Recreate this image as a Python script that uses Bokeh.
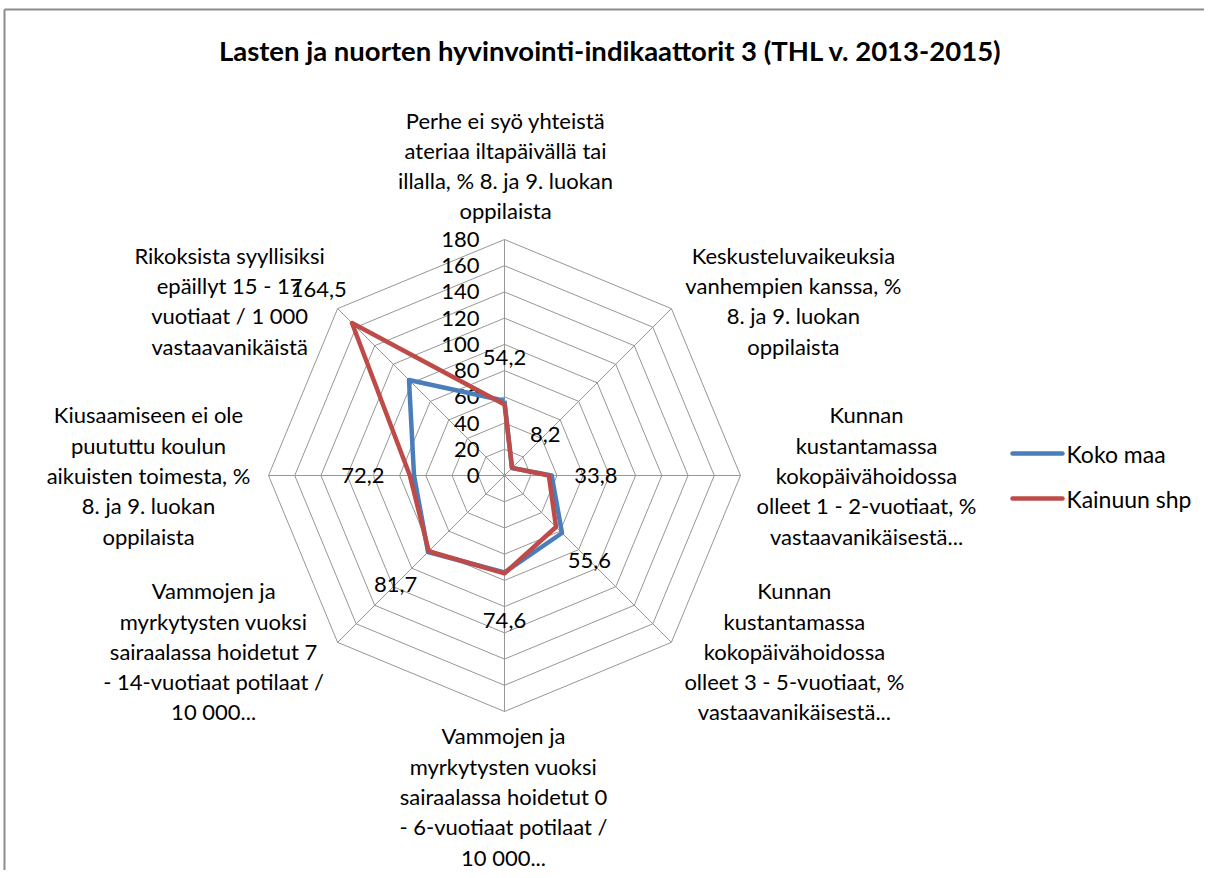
import math
from bokeh.plotting import figure
from bokeh.models import Range1d, ColumnDataSource
from bokeh.core.properties import value
from bokeh.embed import file_html
from bokeh.resources import INLINE

# ---------------- data ----------------
title_text = "Lasten ja nuorten hyvinvointi-indikaattorit 3 (THL v. 2013-2015)"
categories = [
    "Perhe ei syö yhteistä\nateriaa iltapäivällä tai\nillalla, % 8. ja 9. luokan\noppilaista",
    "Keskusteluvaikeuksia\nvanhempien kanssa, %\n8. ja 9. luokan\noppilaista",
    "Kunnan\nkustantamassa\nkokopäivähoidossa\nolleet 1 - 2-vuotiaat, %\nvastaavanikäisestä...",
    "Kunnan\nkustantamassa\nkokopäivähoidossa\nolleet 3 - 5-vuotiaat, %\nvastaavanikäisestä...",
    "Vammojen ja\nmyrkytysten vuoksi\nsairaalassa hoidetut 0\n- 6-vuotiaat potilaat /\n10 000...",
    "Vammojen ja\nmyrkytysten vuoksi\nsairaalassa hoidetut 7\n- 14-vuotiaat potilaat /\n10 000...",
    "Kiusaamiseen ei ole\npuututtu koulun\naikuisten toimesta, %\n8. ja 9. luokan\noppilaista",
    "Rikoksista syyllisiksi\nepäillyt 15 - 17\nvuotiaat / 1 000\nvastaavanikäistä",
]
series_names = ["Koko maa", "Kainuun shp"]
koko_maa = [57.0, 8.0, 36.0, 62.0, 74.0, 82.5, 69.0, 103.0]
kainuun_shp = [54.2, 8.2, 33.8, 55.6, 74.6, 81.7, 72.2, 164.5]
ticks = [0, 20, 40, 60, 80, 100, 120, 140, 160, 180]

# ---------------- layout / style ----------------
W, H = 1204, 870
CX, CY = 504, 475                     # chart centre in figure pixels
R_PX = 236.0                          # pixels for the max value
VMAX = 180.0
K = VMAX / R_PX                       # value units per pixel
FONT = value("Lato")
FS = "22px"
LINE_H = 30.3
BLUE = "#4A7EBB"
RED = "#BE4B48"
GRID = "#979797"
# offsets (pixels) of each category label block centre from its outer vertex
LABEL_OFFSETS = [(1, -74), (122, -8), (126, 0), (123, 9),
                 (-1, 85), (-124, 9), (-120, 0), (-108, -8)]
DATA_LABEL_GAP = 47  # pixels beyond point


def px(xp):
    return (xp - CX) * K


def py(yp):
    return (CY - yp) * K


n = len(categories)
ang = [2 * math.pi * i / n for i in range(n)]
sx = [math.sin(a) for a in ang]
cy_ = [math.cos(a) for a in ang]

p = figure(width=W, height=H, output_backend="svg", toolbar_location=None,
           x_range=Range1d(-CX * K, (W - CX) * K),
           y_range=Range1d(-(H - CY) * K, CY * K),
           min_border=0, outline_line_color=None, background_fill_color="white",
           border_fill_color="white")
p.axis.visible = False
p.grid.visible = False

# border of the chart area
p.line([px(4), px(4)], [py(H + 5), py(9)], line_color="#8C8C8C", line_width=2)
p.line([px(4), px(W + 5)], [py(9), py(9)], line_color="#8C8C8C", line_width=2)

# grid rings
ring_xs, ring_ys = [], []
for t in ticks[1:]:
    ring_xs.append([t * s for s in sx] + [t * sx[0]])
    ring_ys.append([t * c for c in cy_] + [t * cy_[0]])
p.multi_line(ring_xs, ring_ys, line_color=GRID, line_width=1)
# spokes
p.segment(x0=[0] * n, y0=[0] * n, x1=[VMAX * s for s in sx], y1=[VMAX * c for c in cy_],
          line_color=GRID, line_width=1)

# tick labels
p.text(x=[0] * len(ticks), y=ticks, text=[str(t) for t in ticks],
       x_offset=-25, text_align="right", text_baseline="middle",
       text_font=FONT, text_font_size=FS, text_color="#000000")

# series
for vals, col in ((koko_maa, BLUE), (kainuun_shp, RED)):
    xs = [v * s for v, s in zip(vals, sx)]
    ys = [v * c for v, c in zip(vals, cy_)]
    p.line(xs + xs[:1], ys + ys[:1], line_color=col, line_width=4.5, line_join="round")

# data labels (Kainuun shp)
lab_src = ColumnDataSource(dict(
    x=[(v + DATA_LABEL_GAP * K) * s for v, s in zip(kainuun_shp, sx)],
    y=[(v + DATA_LABEL_GAP * K) * c for v, c in zip(kainuun_shp, cy_)],
    text=[f"{v:.1f}".replace(".", ",") for v in kainuun_shp]))
p.text(x="x", y="y", text="text", source=lab_src, text_align="center",
       text_baseline="middle", text_font=FONT, text_font_size=FS, text_color="#000000")

# category labels
cx_l, cy_l, ct = [], [], []
for i, cat in enumerate(categories):
    lines = cat.split("\n")
    vx, vy = VMAX * sx[i], VMAX * cy_[i]
    bx = vx + LABEL_OFFSETS[i][0] * K
    by = vy - LABEL_OFFSETS[i][1] * K
    m = len(lines)
    for j, ln in enumerate(lines):
        cx_l.append(bx)
        cy_l.append(by - (j - (m - 1) / 2) * LINE_H * K)
        ct.append(ln)
p.text(x=cx_l, y=cy_l, text=ct, text_align="center", text_baseline="middle",
       text_font=FONT, text_font_size=FS, text_color="#000000")

# title
p.text(x=[px(610)], y=[py(50)], text=[title_text], text_align="center",
       text_baseline="middle", text_font=FONT, text_font_size="27.5px",
       text_font_style="bold", text_color="#000000")

# legend
for nm, col, yy in zip(series_names, (BLUE, RED), (453, 498)):
    p.line([px(1012), px(1062)], [py(yy), py(yy)], line_color=col, line_width=4.5,
           line_cap="round")
    p.text(x=[px(1066)], y=[py(yy)], text=[nm], text_align="left", text_baseline="middle",
           text_font=FONT, text_font_size="23px", text_color="#000000")

open("out.html", "w").write(file_html(p, INLINE))
